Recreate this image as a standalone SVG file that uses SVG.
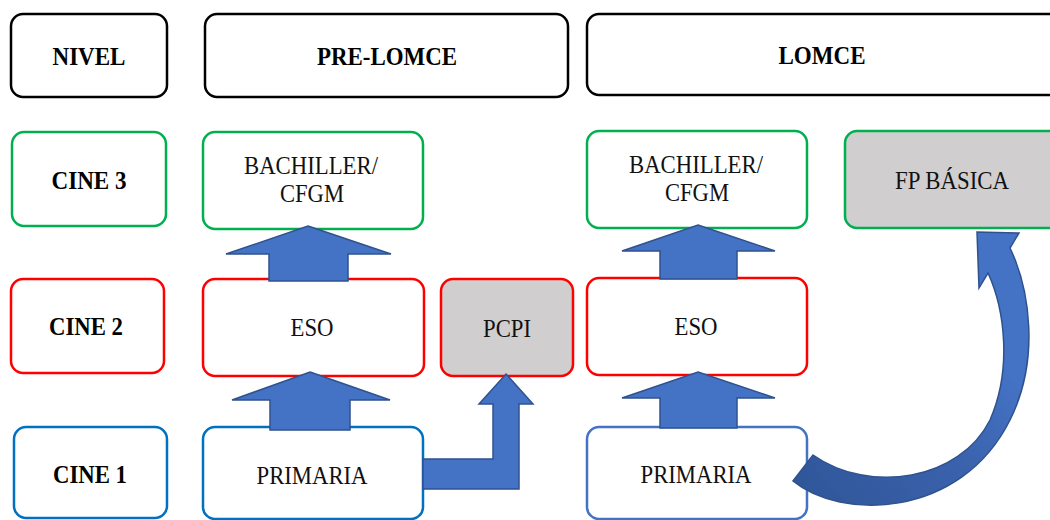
<svg xmlns="http://www.w3.org/2000/svg" width="1050" height="520" viewBox="0 0 1050 520">
<style>
.box{fill:#fff;stroke-width:2.5}
.hdr{stroke:#000}
.g{stroke:#00B050}
.r{stroke:#FF0000}
.b{stroke:#0070C0}
.b2{stroke:#4472C4}
.gray{fill:#D0CECE}
text{font-family:'Liberation Serif','Times New Roman',serif;font-size:25.5px;fill:#111;text-anchor:middle;dominant-baseline:central}
.bold{font-weight:bold;font-size:25.5px;fill:#000}
.arr{fill:#4472C4;stroke:#2F528F;stroke-width:1.5;stroke-linejoin:miter}
</style>
<defs>
<linearGradient id="cg" x1="0" y1="1" x2="1" y2="0">
<stop offset="0" stop-color="#2F5597"/>
<stop offset="0.45" stop-color="#3B63AE"/>
<stop offset="0.7" stop-color="#4472C4"/>
</linearGradient>
</defs>
<g id="n-nivel"><rect class="box hdr" x="11" y="14" width="156" height="83" rx="12"/><text class="bold" x="89" y="56" textLength="73" lengthAdjust="spacingAndGlyphs">NIVEL</text></g>
<g id="n-prelomce"><rect class="box hdr" x="205" y="14" width="363" height="83" rx="12"/><text class="bold" x="387" y="56" textLength="140" lengthAdjust="spacingAndGlyphs">PRE-LOMCE</text></g>
<g id="n-lomce"><rect class="box hdr" x="587" y="14" width="480" height="81" rx="12"/><text class="bold" x="822" y="55" textLength="87" lengthAdjust="spacingAndGlyphs">LOMCE</text></g>

<g id="n-cine3"><rect class="box g" x="12" y="132" width="154" height="94" rx="12"/><text class="bold" x="89" y="180" textLength="75" lengthAdjust="spacingAndGlyphs">CINE 3</text></g>
<g id="n-bach1"><rect class="box g" x="203" y="132" width="220" height="97" rx="12"/><text x="311" y="165" textLength="134" lengthAdjust="spacingAndGlyphs">BACHILLER/</text><text x="312" y="193" textLength="64" lengthAdjust="spacingAndGlyphs">CFGM</text></g>
<g id="n-bach2"><rect class="box g" x="587" y="131" width="220" height="97" rx="12"/><text x="696" y="164" textLength="134" lengthAdjust="spacingAndGlyphs">BACHILLER/</text><text x="697" y="192" textLength="64" lengthAdjust="spacingAndGlyphs">CFGM</text></g>
<g id="n-fpb"><rect class="box g gray" x="845" y="131" width="230" height="97" rx="12"/><text x="952" y="180" textLength="114" lengthAdjust="spacingAndGlyphs">FP BÁSICA</text></g>

<g id="n-cine2"><rect class="box r" x="11" y="279" width="153" height="94" rx="12"/><text class="bold" x="86" y="326" textLength="74" lengthAdjust="spacingAndGlyphs">CINE 2</text></g>
<g id="n-eso1"><rect class="box r" x="203" y="279" width="221" height="97" rx="12"/><text x="312" y="327" textLength="43" lengthAdjust="spacingAndGlyphs">ESO</text></g>
<g id="n-pcpi"><rect class="box r gray" x="441" y="279" width="132" height="97" rx="12"/><text x="507" y="328" textLength="48" lengthAdjust="spacingAndGlyphs">PCPI</text></g>
<g id="n-eso2"><rect class="box r" x="587" y="278" width="220" height="97" rx="12"/><text x="696" y="326" textLength="43" lengthAdjust="spacingAndGlyphs">ESO</text></g>

<g id="n-cine1"><rect class="box b" x="14" y="427" width="153" height="91" rx="12"/><text class="bold" x="90" y="474" textLength="74" lengthAdjust="spacingAndGlyphs">CINE 1</text></g>
<g id="n-prim1"><rect class="box b" x="203" y="427" width="220" height="92" rx="12"/><text x="312" y="475" textLength="111" lengthAdjust="spacingAndGlyphs">PRIMARIA</text></g>
<g id="n-prim2"><rect class="box b2" x="587" y="427" width="220" height="92" rx="12"/><text x="696" y="474" textLength="111" lengthAdjust="spacingAndGlyphs">PRIMARIA</text></g>

<g id="connectors">
<path class="arr" d="M308,226 L391,254 L348,254 L348,281 L269,281 L269,254 L226,254 Z"/>
<path class="arr" d="M310,372 L390,400 L350,400 L350,430 L270,430 L270,400 L232,400 Z"/>
<path class="arr" d="M698,225 L775,251 L737,251 L737,279 L660,279 L660,251 L622,251 Z"/>
<path class="arr" d="M698,372 L775,398 L737,398 L737,428 L660,428 L660,398 L622,398 Z"/>
<path class="arr" d="M423,459 L493,459 L493,404 L479,404 L506,374 L533,404 L519,404 L519,489 L423,489 Z"/>
<path class="arr" style="fill:url(#cg)" d="M793,481 C840,520 960,520 1010,420 C1040,360 1030,290 1010,248 L1019,233 L977,232 L979,288 L988,273 C1005,310 1012,370 990,420 C960,480 870,495 813,455 Z"/>
</g>
</svg>
